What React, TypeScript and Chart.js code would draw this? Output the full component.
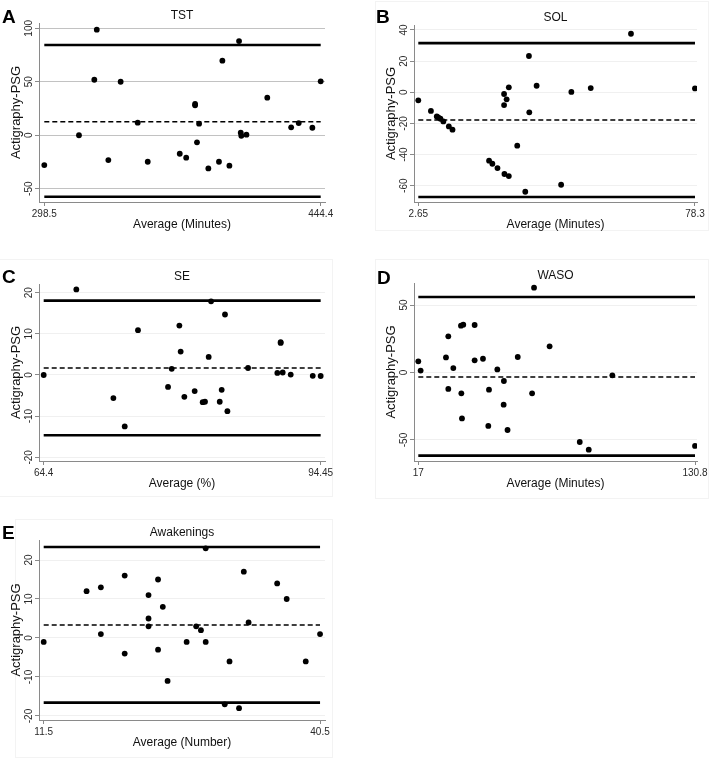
import React, { useEffect, useRef } from 'react';
import { Chart, registerables } from 'chart.js';

Chart.register(...registerables);

// ---------- DATA ----------
// A: TST
const tstAvg = [298.5, 326.2, 324.9, 316.8, 332.3, 338.8, 347.8, 353.1, 370.0, 373.4, 378.1, 378.1, 380.2, 379.1, 385.1, 390.7, 392.5, 396.2, 401.3, 402.2, 402.5, 405.2, 416.2, 428.8, 432.8, 440.0, 444.4];
const tstDiff = [-27.9, 98.7, 51.9, 0, -23.2, 50, 11.7, -24.8, -17.3, -21, 29.2, 28, 10.8, -6.6, -31, -24.8, 69.7, -28.5, 88.1, 2.3, -0.5, 0.5, 35.1, 7.4, 11.4, 7, 50.4];
const tstBias = 12.6;
const tstUpper = 84.4;
const tstLower = -57.5;
const tstXTicks = [298.5, 444.4];
const tstXTickLabels = ['298.5', '444.4'];
const tstYTicks = [-50, 0, 50, 100];

// B: SOL
const solAvg = [2.65, 6.1, 7.7, 8.1, 8.7, 9.5, 11.0, 12.0, 22.0, 22.9, 24.3, 26.2, 27.4, 26.1, 26.1, 26.8, 27.4, 29.7, 31.9, 32.9, 33.0, 35.0, 41.7, 44.5, 49.8, 60.8, 78.3];
const solDiff = [-5.2, -12.0, -15.5, -16.1, -17, -18.7, -21.9, -24, -43.9, -45.9, -48.7, -52.5, -53.8, -1.1, -8.2, -4.5, 3.2, -34.3, -63.9, 23.3, -12.9, 4.2, -59.4, 0.2, 2.7, 37.6, 2.5];
const solBias = -17.8;
const solUpper = 31.6;
const solLower = -67.3;
const solXTicks = [2.65, 78.3];
const solXTickLabels = ['2.65', '78.3'];
const solYTicks = [-60, -40, -20, 0, 20, 40];

// C: SE
const seAvg = [64.4, 67.94, 71.96, 73.19, 74.63, 77.89, 78.29, 79.12, 79.26, 79.66, 80.78, 81.65, 81.9, 82.3, 82.56, 83.5, 83.71, 84.07, 84.33, 86.57, 89.75, 90.11, 90.11, 90.33, 91.2, 93.59, 94.45];
const seDiff = [0, 20.8, -5.6, -12.5, 10.9, -2.9, 1.5, 12.0, 5.7, -5.3, -3.9, -6.6, -6.5, 4.4, 17.9, -6.5, -3.6, 14.7, -8.8, 1.7, 0.5, 8.0, 7.8, 0.6, 0.1, -0.2, -0.25];
const seBias = 1.7;
const seUpper = 18.06;
const seLower = -14.66;
const seXTicks = [64.4, 94.45];
const seXTickLabels = ['64.4', '94.45'];
const seYTicks = [-20, -10, 0, 10, 20];

// D: WASO
const wasoAvg = [17, 17.96, 28.38, 29.34, 29.34, 31.4, 34.55, 35.5, 34.7, 34.96, 40.17, 40.17, 43.6, 46.07, 45.79, 49.5, 52.1, 52.2, 53.7, 57.9, 63.8, 64.6, 71.0, 83.4, 87.1, 96.8, 130.8];
const wasoDiff = [8.3, 1.4, 11.2, 26.8, -12.2, 3.3, 34.7, 35.4, -15.4, -34, 35.2, 9.0, 10.2, -12.7, -39.6, 2.3, -23.8, -6.3, -42.6, 11.5, -15.4, 62.8, 19.4, -51.5, -57.2, -2.1, -54.4];
const wasoBias = -3.3;
const wasoUpper = 55.9;
const wasoLower = -61.6;
const wasoXTicks = [17, 130.8];
const wasoXTickLabels = ['17', '130.8'];
const wasoYTicks = [-50, 0, 50];

// E: Awakenings
const awkAvg = [11.5, 16, 17.5, 17.5, 20, 20, 22.5, 22.5, 22.5, 23.5, 23.5, 24, 24.5, 26.5, 27.5, 28, 28.5, 28.5, 30.5, 31, 32, 32.5, 33, 36, 37, 39, 40.5];
const awkDiff = [-1, 12, 13, 1, 16, -4, 11, 5, 3, 15, -3, 8, -11, -1, 3, 2, 23, -1, -17, -6, -18, 17, 4, 14, 10, -6, 1];
const awkBias = 3.33;
const awkUpper = 23.33;
const awkLower = -16.58;
const awkXTicks = [11.5, 40.5];
const awkXTickLabels = ['11.5', '40.5'];
const awkYTicks = [-20, -10, 0, 10, 20];

const yAxisTitle = 'Actigraphy-PSG';

// ---------- PANEL CONFIG ----------
type PanelCfg = {
  letter: string; title: string; xTitle: string;
  avg: number[]; diff: number[]; bias: number; upper: number; lower: number;
  xTicks: number[]; xTickLabels: string[]; yTicks: number[];
  xRange: [number, number]; yRange: [number, number];
  box: { left: number; top: number; w: number; h: number };
  area: { l: number; t: number; r: number; b: number };
  gridColor: string;
  frame?: { left: number; top: number; right: number; bottom: number };
  letterPos: { x: number; y: number };
};

const panels: PanelCfg[] = [
  {
    letter: 'A', title: 'TST', xTitle: 'Average (Minutes)',
    avg: tstAvg, diff: tstDiff, bias: tstBias, upper: tstUpper, lower: tstLower,
    xTicks: tstXTicks, xTickLabels: tstXTickLabels, yTicks: tstYTicks,
    xRange: [295.7, 446.67], yRange: [-62.44, 104.96],
    box: { left: 0, top: 0, w: 355, h: 245 },
    area: { l: 39, t: 23, r: 325, b: 202 },
    gridColor: '#c2c2c2',
    letterPos: { x: 2, y: 7 },
  },
  {
    letter: 'B', title: 'SOL', xTitle: 'Average (Minutes)',
    avg: solAvg, diff: solDiff, bias: solBias, upper: solUpper, lower: solLower,
    xTicks: solXTicks, xTickLabels: solXTickLabels, yTicks: solYTicks,
    xRange: [1.474, 78.85], yRange: [-70.47, 43.21],
    box: { left: 355, top: 0, w: 355, h: 245 },
    area: { l: 59, t: 25, r: 342, b: 202 },
    gridColor: '#f0f0f0',
    frame: { left: 375, top: 1, right: 709, bottom: 231 },
    letterPos: { x: 376, y: 7 },
  },
  {
    letter: 'C', title: 'SE', xTitle: 'Average (%)',
    avg: seAvg, diff: seDiff, bias: seBias, upper: seUpper, lower: seLower,
    xTicks: seXTicks, xTickLabels: seXTickLabels, yTicks: seYTicks,
    xRange: [63.89, 94.92], yRange: [-20.9, 22.11],
    box: { left: 0, top: 250, w: 355, h: 255 },
    area: { l: 39, t: 34, r: 325, b: 211 },
    gridColor: '#f0f0f0',
    frame: { left: -1, top: 259, right: 333, bottom: 497 },
    letterPos: { x: 2, y: 267 },
  },
  {
    letter: 'D', title: 'WASO', xTitle: 'Average (Minutes)',
    avg: wasoAvg, diff: wasoDiff, bias: wasoBias, upper: wasoUpper, lower: wasoLower,
    xTicks: wasoXTicks, xTickLabels: wasoXTickLabels, yTicks: wasoYTicks,
    xRange: [15.23, 131.62], yRange: [-65.56, 66.3],
    box: { left: 355, top: 250, w: 355, h: 255 },
    area: { l: 59, t: 33, r: 342, b: 211 },
    gridColor: '#f0f0f0',
    frame: { left: 375, top: 259, right: 709, bottom: 499 },
    letterPos: { x: 377, y: 268 },
  },
  {
    letter: 'E', title: 'Awakenings', xTitle: 'Average (Number)',
    avg: awkAvg, diff: awkDiff, bias: awkBias, upper: awkUpper, lower: awkLower,
    xTicks: awkXTicks, xTickLabels: awkXTickLabels, yTicks: awkYTicks,
    xRange: [11.007, 41.02], yRange: [-21.03, 25.13],
    box: { left: 0, top: 505, w: 355, h: 255 },
    area: { l: 39, t: 35, r: 325, b: 215 },
    gridColor: '#f0f0f0',
    frame: { left: 15, top: 519, right: 333, bottom: 758 },
    letterPos: { x: 2, y: 523 },
  },
];

const FONT = '"Liberation Sans", Arial, Helvetica, sans-serif';
const AXIS_COLOR = '#8a8a8a';
const TEXT_COLOR = '#2a2a2a';

const rotatedYTicks = {
  id: 'rotatedYTicks',
  afterDraw(chart: any) {
    const s = chart.scales.y;
    const ctx = chart.ctx;
    ctx.save();
    ctx.font = '10px ' + FONT;
    ctx.fillStyle = TEXT_COLOR;
    ctx.textAlign = 'center';
    ctx.textBaseline = 'middle';
    for (const t of s.ticks) {
      const y = s.getPixelForValue(t.value);
      ctx.save();
      ctx.translate(chart.chartArea.left - 10, y);
      ctx.rotate(-Math.PI / 2);
      ctx.fillText(String(t.value), 0, 0);
      ctx.restore();
    }
    ctx.restore();
  },
};

function Panel({ cfg }: { cfg: PanelCfg }) {
  const ref = useRef<HTMLCanvasElement | null>(null);
  useEffect(() => {
    if (!ref.current) return;
    const { box, area } = cfg;
    const x0 = cfg.xTicks[0];
    const x1 = cfg.xTicks[cfg.xTicks.length - 1];
    const hline = (v: number) => [{ x: x0, y: v }, { x: x1, y: v }];
    const chart = new Chart(ref.current, {
      type: 'scatter',
      data: {
        datasets: [
          {
            data: cfg.avg.map((a, i) => ({ x: a, y: cfg.diff[i] })),
            backgroundColor: '#000',
            borderColor: '#000',
            pointRadius: 2.9,
            pointBorderWidth: 0,
            showLine: false,
          },
          {
            data: hline(cfg.upper),
            showLine: true, borderColor: '#000', borderWidth: 2.6, pointRadius: 0,
          },
          {
            data: hline(cfg.bias),
            showLine: true, borderColor: '#000', borderWidth: 1.4, borderDash: [5, 3], pointRadius: 0,
          },
          {
            data: hline(cfg.lower),
            showLine: true, borderColor: '#000', borderWidth: 2.6, pointRadius: 0,
          },
        ] as any,
      },
      options: {
        responsive: false,
        maintainAspectRatio: false,
        animation: false,
        events: [],
        layout: { padding: { left: 0, top: area.t, right: box.w - area.r, bottom: 0 } },
        plugins: { legend: { display: false }, tooltip: { enabled: false }, title: { display: false } },
        scales: {
          x: {
            type: 'linear',
            min: cfg.xRange[0], max: cfg.xRange[1],
            afterBuildTicks: (s: any) => { s.ticks = cfg.xTicks.map((v) => ({ value: v })); },
            afterFit: (s: any) => { s.height = box.h - area.b; },
            ticks: {
              autoSkip: false, maxRotation: 0, minRotation: 0, padding: 2,
              color: TEXT_COLOR, font: { size: 10, family: FONT },
              callback: (_v: any, i: number) => cfg.xTickLabels[i],
            },
            grid: { display: true, drawOnChartArea: false, drawTicks: true, tickLength: 4, tickColor: AXIS_COLOR },
            border: { display: true, color: AXIS_COLOR, width: 1 },
            title: {
              display: true, text: cfg.xTitle, color: '#111',
              font: { size: 12, family: FONT },
              padding: { top: 0, bottom: box.h - (area.b + 22.5) - 7.2 },
            },
          },
          y: {
            type: 'linear',
            min: cfg.yRange[0], max: cfg.yRange[1],
            afterBuildTicks: (s: any) => { s.ticks = cfg.yTicks.map((v) => ({ value: v })); },
            afterFit: (s: any) => { s.width = area.l; },
            ticks: { display: false },
            grid: { display: true, drawOnChartArea: true, color: cfg.gridColor, lineWidth: 1, drawTicks: true, tickLength: 4, tickColor: AXIS_COLOR },
            border: { display: true, color: AXIS_COLOR, width: 1 },
            title: {
              display: true, text: yAxisTitle, color: '#111',
              font: { size: 13, family: FONT },
              padding: { top: area.l - 22.5 - 7.8, bottom: 0 },
            },
          },
        },
      } as any,
      plugins: [rotatedYTicks],
    });
    return () => chart.destroy();
  }, [cfg]);

  const { box, area } = cfg;
  const cx = box.left + (area.l + area.r) / 2;
  return (
    <>
      {cfg.frame && (
        <div style={{
          position: 'absolute', left: cfg.frame.left, top: cfg.frame.top,
          width: cfg.frame.right - cfg.frame.left, height: cfg.frame.bottom - cfg.frame.top,
          border: '1px solid #f3f3f3', boxSizing: 'border-box',
        }} />
      )}
      <canvas ref={ref} width={box.w} height={box.h}
        style={{ position: 'absolute', left: box.left, top: box.top, width: box.w, height: box.h }} />
      <div style={{
        position: 'absolute', left: cx - 100, width: 200, top: box.top + area.t - 14,
        textAlign: 'center', fontFamily: FONT, fontSize: 12, lineHeight: '12px', color: '#111',
      }}>{cfg.title}</div>
      <div style={{
        position: 'absolute', left: cfg.letterPos.x, top: cfg.letterPos.y,
        fontFamily: '"Liberation Sans Narrow", "Liberation Sans", Arial, sans-serif',
        fontWeight: 'bold', fontSize: 19, lineHeight: '19px', color: '#000',
      }}>{cfg.letter}</div>
    </>
  );
}

export default function App() {
  return (
    <div style={{ position: 'absolute', left: 0, top: 0, width: 710, height: 760, background: '#fff', overflow: 'hidden' }}>
      {panels.map((p) => <Panel key={p.letter} cfg={p} />)}
    </div>
  );
}
